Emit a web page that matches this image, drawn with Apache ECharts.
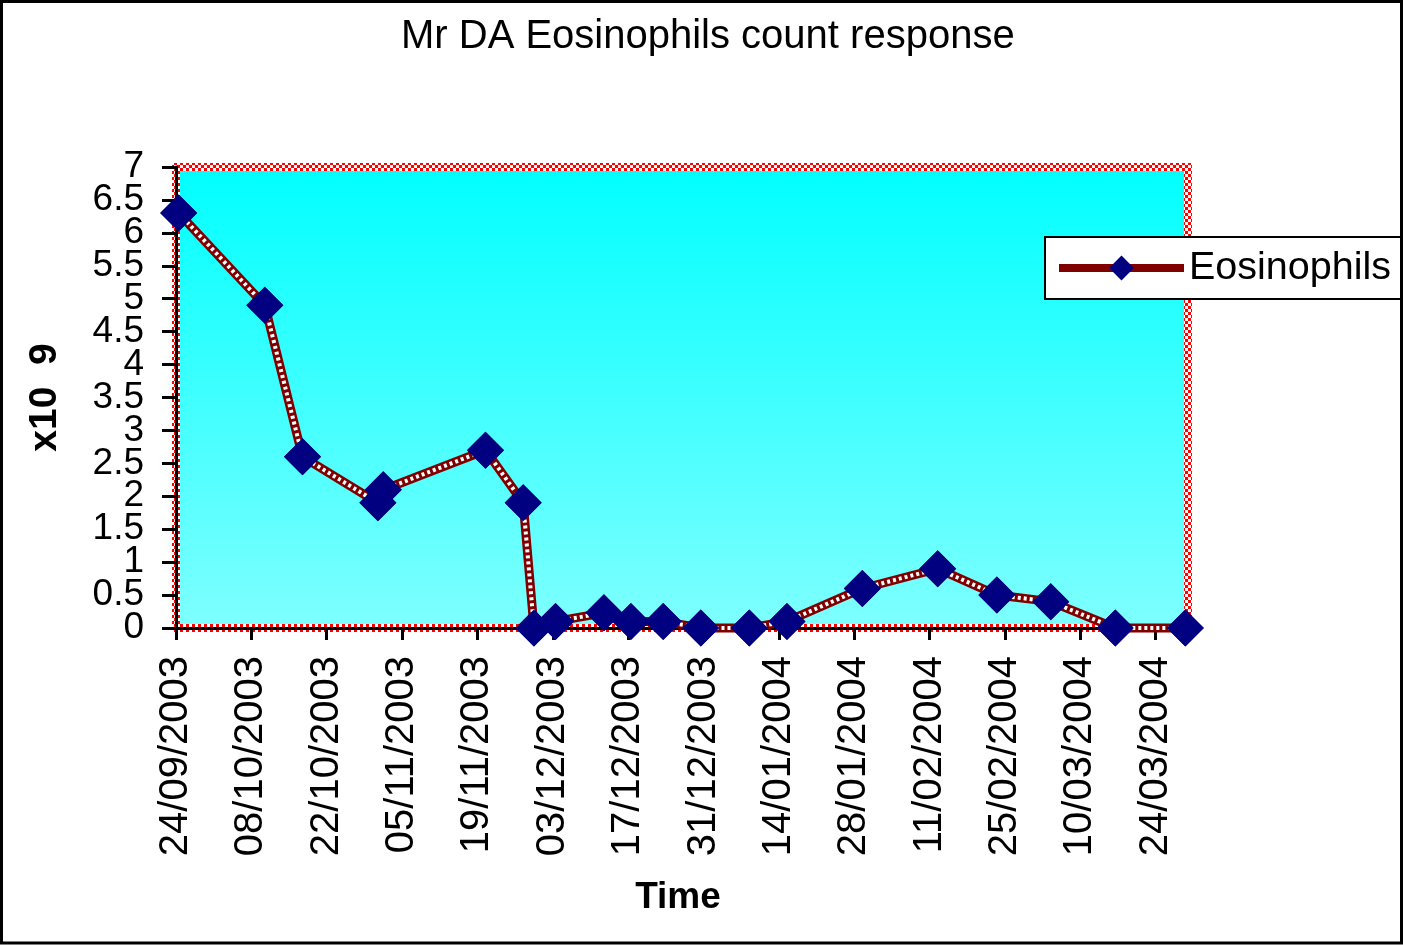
<!DOCTYPE html>
<html><head><meta charset="utf-8">
<script src="https://cdn.jsdelivr.net/npm/echarts@6/dist/echarts.min.js"></script>
<style>html,body{margin:0;padding:0;background:#fff}#c{width:1403px;height:945px}</style>
</head><body><div id="c"></div>
<script>
// ---- data ----
const sampleDates = ['24/09/2003','10/10/2003','17/10/2003','31/10/2003','01/11/2003','20/11/2003','27/11/2003','29/11/2003','03/12/2003','12/12/2003','17/12/2003','23/12/2003','30/12/2003','08/01/2004','15/01/2004','29/01/2004','12/02/2004','23/02/2004','04/03/2004','16/03/2004','29/03/2004'];
const eosinophils = [6.3,4.9,2.6,1.9,2.1,2.7,1.9,0,0.1,0.23,0.1,0.1,0,0,0.1,0.6,0.9,0.5,0.4,0,0];
const xTickLabels = ['24/09/2003','08/10/2003','22/10/2003','05/11/2003','19/11/2003','03/12/2003','17/12/2003','31/12/2003','14/01/2004','28/01/2004','11/02/2004','25/02/2004','10/03/2004','24/03/2004'];
const yTickLabels = ['0','0.5','1','1.5','2','2.5','3','3.5','4','4.5','5','5.5','6','6.5','7'];
const axisStartDate = '24/09/2003';
const axisEndDate = '30/03/2004';
const yMin = 0, yMax = 7, yStep = 0.5;
const titleText = 'Mr DA Eosinophils count response';
const seriesName = 'Eosinophils';
const xName = 'Time';
const yName = 'x10  9';

// ---- helpers ----
function utc(s){ const p = s.split('/').map(Number); return Date.UTC(p[2], p[1]-1, p[0]); }
const t0 = utc(axisStartDate);
function dayOf(s){ return Math.round((utc(s) - t0) / 86400000); }
const tickDays = xTickLabels.map(dayOf);
const labelByDay = {}; xTickLabels.forEach(function(l){ labelByDay[dayOf(l)] = l; });
// Excel date axis centres each point in its day bucket
const points = sampleDates.map(function(d, i){ return [dayOf(d) + 0.5, eosinophils[i]]; });
// y labels overlap in the original; split them across two coincident axes so none is dropped
const yVals = yTickLabels.map(Number);
const yWhole = yVals.filter(function(v, i){ return i % 2 === 0; });
const yHalf = yVals.filter(function(v, i){ return i % 2 === 1; });

const FONT = "'Liberation Sans', Arial, sans-serif";

// checkered border pattern
const pc = document.createElement('canvas'); pc.width = 6; pc.height = 6;
const pctx = pc.getContext('2d');
pctx.fillStyle = '#ffffff'; pctx.fillRect(0,0,6,6);
pctx.fillStyle = '#ff0000'; pctx.fillRect(0,0,3,3); pctx.fillRect(3,3,3,3);

const yLabelStyle = {margin: 32, fontFamily: FONT, fontSize: 37, color: '#000',
  showMinLabel: true, showMaxLabel: true, hideOverlap: false};

const chart = echarts.init(document.getElementById('c'), null, {renderer:'canvas'});
chart.setOption({
  animation: false,
  backgroundColor: '#ffffff',
  title: {
    text: titleText, left: 401, top: 17, padding: 0,
    textStyle: {fontFamily: FONT, fontSize: 40, fontWeight: 'normal', color: '#000'}
  },
  legend: {
    data: [seriesName], left: 1045, top: 237, orient: 'horizontal',
    backgroundColor: '#ffffff', borderColor: '#000', borderWidth: 2, borderRadius: 0,
    padding: [8, 10, 8, 10], itemWidth: 125, itemHeight: 31,
    lineStyle: {width: 8},
    textStyle: {fontFamily: FONT, fontSize: 39.5, color: '#000', lineHeight: 46}
  },
  grid: {
    left: 176, right: 215, top: 167, bottom: 317, outerBoundsMode: 'none',
    show: true,
    backgroundColor: {type:'linear', x:0, y:0, x2:0, y2:1, colorStops:[{offset:0, color:'#00FFFF'},{offset:1, color:'#80FFFF'}]},
    borderColor: {image: pc, repeat: 'repeat'}, borderWidth: 8
  },
  xAxis: {
    type: 'value', min: dayOf(axisStartDate), max: dayOf(axisEndDate),
    name: xName, nameLocation: 'middle', nameGap: 251,
    nameTextStyle: {fontFamily: FONT, fontSize: 37, fontWeight: 'bold', color: '#000', padding: [0, 8, 0, 0]},
    axisLine: {show: true, lineStyle: {color: '#000', width: 3}},
    axisTick: {show: true, customValues: tickDays, length: 12, lineStyle: {color: '#000', width: 3}},
    axisLabel: {customValues: tickDays, rotate: 90, margin: 28, fontFamily: FONT, fontSize: 40, color: '#000',
      showMinLabel: true, showMaxLabel: true, hideOverlap: false,
      formatter: function(v){ return labelByDay[Math.round(v)] || ''; }},
    splitLine: {show: false}
  },
  yAxis: [{
    type: 'value', min: yMin, max: yMax, interval: yStep, position: 'left', offset: 0,
    name: yName, nameLocation: 'middle', nameGap: 111,
    nameTextStyle: {fontFamily: FONT, fontSize: 39, fontWeight: 'bold', color: '#000'},
    axisLine: {show: true, lineStyle: {color: '#000', width: 3}},
    axisTick: {show: true, customValues: yVals, length: 14, lineStyle: {color: '#000', width: 3}},
    axisLabel: Object.assign({customValues: yWhole}, yLabelStyle),
    splitLine: {show: false}
  }, {
    type: 'value', min: yMin, max: yMax, interval: yStep, position: 'left', offset: 0,
    axisLine: {show: false}, axisTick: {show: false},
    axisLabel: Object.assign({customValues: yHalf}, yLabelStyle),
    splitLine: {show: false}
  }],
  series: [
    {name: seriesName, type: 'line', data: points, clip: false, z: 2,
     symbol: 'diamond', symbolSize: 37, itemStyle: {color: '#000080'},
     lineStyle: {color: '#800000', width: 9}},
    {name: seriesName + ' dashes', type: 'line', data: points, clip: false, z: 3, silent: true,
     symbol: 'none', lineStyle: {color: '#ffffff', width: 4, type: [3, 3], cap: 'butt'}},
    {name: seriesName + ' markers', type: 'line', data: points, clip: false, z: 4,
     symbol: 'diamond', symbolSize: 37, itemStyle: {color: '#000080'},
     lineStyle: {opacity: 0, width: 0}}
  ],
  graphic: [{
    type: 'rect', z: 100, silent: true,
    shape: {x: 1.5, y: 1.5, width: 1400, height: 941.5},
    style: {fill: 'none', stroke: '#000', lineWidth: 3}
  }]
});
</script></body></html>
